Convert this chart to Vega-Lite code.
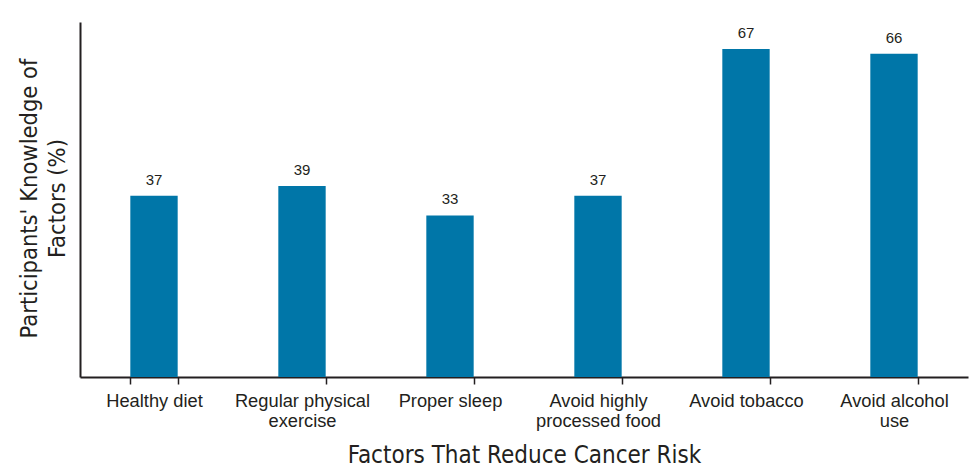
{
  "$schema": "https://vega.github.io/schema/vega-lite/v6.json",
  "autosize": "none",
  "width": 888,
  "height": 355,
  "padding": {"left": 80, "top": 22, "right": 12, "bottom": 91},
  "background": "white",
  "config": {"view": {"stroke": null}},
  "data": {"values": [
    {"factor": "Healthy diet", "pct": 37},
    {"factor": "Regular physical exercise", "pct": 39},
    {"factor": "Proper sleep", "pct": 33},
    {"factor": "Avoid highly processed food", "pct": 37},
    {"factor": "Avoid tobacco", "pct": 67},
    {"factor": "Avoid alcohol use", "pct": 66}
  ]},
  "encoding": {
    "x": {
      "field": "factor", "type": "nominal", "sort": null,
      "scale": {"paddingInner": 0.68, "paddingOuter": 0.34},
      "axis": {
        "title": "Factors That Reduce Cancer Risk",
        "titleFont": "DejaVu Sans Condensed", "titleFontSize": 24, "titleFontWeight": "normal",
        "titleColor": "#231f20", "titleBaseline": "middle", "titleY": 78,
        "labelAngle": 0, "labelFont": "Liberation Sans", "labelFontSize": 18.3, "labelColor": "#231f20",
        "labelBaseline": "top", "labelPadding": 8, "labelLineHeight": 20,
        "labelExpr": "datum.value == 'Regular physical exercise' ? ['Regular physical', 'exercise'] : datum.value == 'Avoid highly processed food' ? ['Avoid highly', 'processed food'] : datum.value == 'Avoid alcohol use' ? ['Avoid alcohol', 'use'] : datum.value",
        "tickBand": "extent", "tickSize": 7, "tickColor": "#231f20", "tickWidth": 1.5,
        "domainColor": "#231f20", "domainWidth": 2, "grid": false
      }
    },
    "y": {
      "field": "pct", "type": "quantitative",
      "scale": {"domain": [0, 72.5], "nice": false},
      "axis": {
        "title": ["Participants' Knowledge of", "Factors (%)"],
        "titleFont": "DejaVu Sans Condensed", "titleFontSize": 23.5, "titleFontWeight": "normal",
        "titleColor": "#231f20", "titleAngle": -90, "titleX": -51, "titleY": 176,
        "titleAlign": "center", "titleBaseline": "middle", "titleLineHeight": 28,
        "labels": false, "ticks": false, "grid": false,
        "domainColor": "#231f20", "domainWidth": 2
      }
    }
  },
  "layer": [
    {"mark": {"type": "bar", "color": "#0076a8"}},
    {
      "mark": {"type": "text", "baseline": "bottom", "dy": -8, "font": "Liberation Sans", "fontSize": 15, "color": "#231f20"},
      "encoding": {"text": {"field": "pct", "type": "quantitative"}}
    }
  ]
}
